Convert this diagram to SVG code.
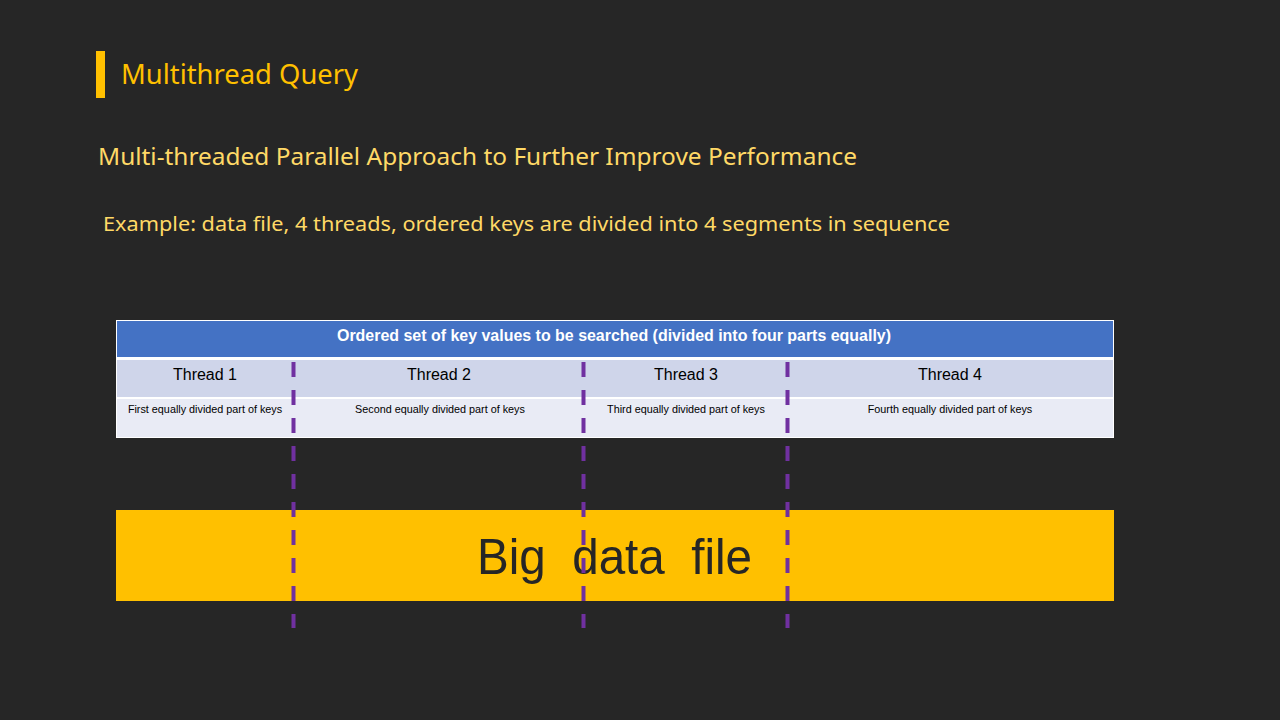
<svg xmlns="http://www.w3.org/2000/svg" width="1280" height="720" viewBox="0 0 1280 720">
<style>
.ttl{font-family:"Noto Sans","Open Sans",sans-serif;fill:#FFC000}
.sub{font-family:"Noto Sans","Open Sans",sans-serif;fill:#FFD966}
.hdr{font-family:"Liberation Sans",Arial,sans-serif;font-size:16px;font-weight:bold;fill:#FFFFFF}
.th{font-family:"Liberation Sans",Arial,sans-serif;font-size:16px;fill:#000000}
.td{font-family:"Liberation Sans",Arial,sans-serif;font-size:10.8px;fill:#000000}
.big{font-family:"Liberation Sans",Arial,sans-serif;font-size:50px;fill:#262626}
.dash{stroke:#7030A0;stroke-width:4;stroke-dasharray:15 13;fill:none}
</style>
<rect x="0" y="0" width="1280" height="720" fill="#262626"/>
<g id="title">
<rect x="96" y="51" width="9" height="47" fill="#FFC000"/>
<text class="ttl" x="121" y="84" font-size="27" textLength="237" lengthAdjust="spacingAndGlyphs">Multithread Query</text>
</g>
<g id="subtitle">
<text class="sub" x="98" y="165" font-size="23.5" textLength="759" lengthAdjust="spacingAndGlyphs">Multi-threaded Parallel Approach to Further Improve Performance</text>
</g>
<g id="example">
<text class="sub" x="103" y="231" font-size="20.5" textLength="847" lengthAdjust="spacingAndGlyphs">Example: data file, 4 threads, ordered keys are divided into 4 segments in sequence</text>
</g>
<g id="table">
<rect x="116" y="320" width="998" height="118" fill="#FFFFFF"/>
<rect x="117" y="321" width="996" height="36" fill="#4472C4"/>
<rect x="117" y="360" width="996" height="37" fill="#CFD5EA"/>
<rect x="117" y="399" width="996" height="38" fill="#E9EBF5"/>
<text class="hdr" x="614" y="341" text-anchor="middle" textLength="554" lengthAdjust="spacingAndGlyphs">Ordered set of key values to be searched (divided into four parts equally)</text>
<text class="th" x="205" y="380" text-anchor="middle">Thread 1</text>
<text class="th" x="439" y="380" text-anchor="middle">Thread 2</text>
<text class="th" x="686" y="380" text-anchor="middle">Thread 3</text>
<text class="th" x="950" y="380" text-anchor="middle">Thread 4</text>
<text class="td" x="205" y="413" text-anchor="middle">First equally divided part of keys</text>
<text class="td" x="440" y="413" text-anchor="middle">Second equally divided part of keys</text>
<text class="td" x="686" y="413" text-anchor="middle">Third equally divided part of keys</text>
<text class="td" x="950" y="413" text-anchor="middle">Fourth equally divided part of keys</text>
</g>
<g id="bigfile">
<rect x="116" y="510" width="998" height="91" fill="#FFC000"/>
<text class="big" x="614.5" y="574" text-anchor="middle" xml:space="preserve" textLength="275" lengthAdjust="spacingAndGlyphs">Big  data  file</text>
</g>
<g id="connectors">
<line class="dash" x1="293.5" y1="362" x2="293.5" y2="628"/>
<line class="dash" x1="583.5" y1="362" x2="583.5" y2="628"/>
<line class="dash" x1="787.5" y1="362" x2="787.5" y2="628"/>
</g>
</svg>
